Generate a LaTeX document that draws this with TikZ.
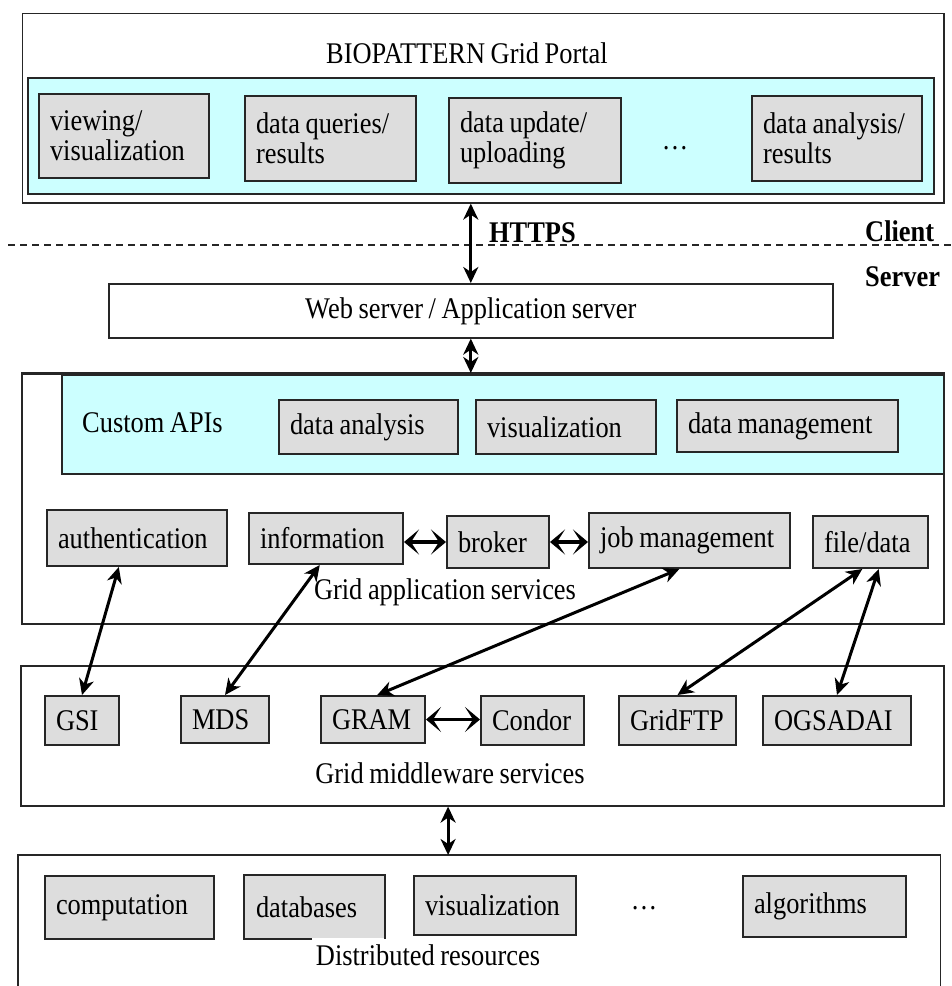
\documentclass[tikz,border=0pt]{standalone}
\usepackage{fontspec}
\setmainfont{Liberation Serif}[FakeStretch=0.88,WordSpace=0.85]
\usetikzlibrary{arrows.meta,calc}

\definecolor{apicyan}{HTML}{CCFFFF}
\definecolor{boxgrey}{HTML}{DDDDDD}
\definecolor{edge}{HTML}{262626}

% grey service box: [extra options], name, left, top, right, bottom, text
\newcommand\GreyBox[7][]{%
  \pgfmathsetmacro\gbW{#5-#3-22}%
  \pgfmathsetmacro\gbH{#6-#4}%
  \node[gbox, #1, text width=\gbW pt, minimum height=\gbH pt] (#2) at (#3,#4) {#7};}

\begin{document}
\begin{tikzpicture}[x=1pt,y=-1pt,
  every node/.style={font=\fontsize{30}{30}\selectfont},
  layer/.style={draw=edge, line width=1.6pt, anchor=north west, inner sep=0pt},
  gbox/.style={draw=edge, fill=boxgrey, line width=2pt, anchor=north west,
               align=flush left, inner xsep=11pt, inner ysep=0pt},
  link/.style={line width=3pt,
               {Stealth[length=16pt,width=15pt,inset=5pt]}-{Stealth[length=16pt,width=15pt,inset=5pt]}},
  hlink/.style={line width=3.2pt,
               {Stealth[length=15pt,width=25pt,inset=8pt]}-{Stealth[length=15pt,width=25pt,inset=8pt]}},
  caption/.style={inner sep=0pt},
  side/.style={font=\fontsize{30}{30}\selectfont\bfseries, anchor=west, inner sep=0pt}
]
\useasboundingbox (0,0) rectangle (952,986);

% ---------- client side: portal ----------
\node[layer, minimum width=921.5pt, minimum height=189.3pt] (portal) at (21.5,12.7) {};
\node[caption] (title) at (467,53) {BIOPATTERN Grid Portal};
\node[layer, fill=apicyan, minimum width=906pt, minimum height=116pt] (ui) at (27,77) {};
\GreyBox{view}{38}{93}{208}{177}{viewing/\\visualization}
\GreyBox{query}{244}{95}{415}{180}{data queries/\\results}
\GreyBox{upload}{448}{97}{620}{182}{data update/\\uploading}
\node[caption] (uidots) at (675,148) {\dots};
\GreyBox{result}{751}{95}{921}{180}{data analysis/\\results}

% ---------- client / server split ----------
\coordinate (splitL) at (8,245);
\coordinate (splitR) at (952,245);
\draw[edge, line width=1.5pt, dash pattern=on 7pt off 5pt] (splitL) -- (splitR);
\node[side] (https) at (489,233) {HTTPS};
\node[side] (client) at (865,231) {Client};
\node[side] (server) at (865,277) {Server};

% ---------- web server ----------
\node[layer, minimum width=724pt, minimum height=54pt] (web) at (108,283) {};
\node[caption] at (web.center) {Web server / Application server};

% ---------- grid application services ----------
\node[layer, minimum width=922pt, minimum height=250pt] (app) at (21,373) {};
\node[layer, fill=apicyan, minimum width=882pt, minimum height=99pt] (apis) at (61,374) {};
\draw[edge, line width=3pt] (app.north west) -- (app.north east);
\node[caption, anchor=west] (apititle) at (82,423) {Custom APIs};
\GreyBox{apiana}{278}{399}{457}{453}{data analysis}
\GreyBox{apivis}{475}{399}{655}{453}{visualization}
\GreyBox{apiman}{676}{399}{897}{451}{data management}

\GreyBox{auth}{46}{509}{226}{565}{authentication}
\GreyBox{info}{248}{512}{402}{563}{information}
\GreyBox{broker}{446}{515}{548}{567}{broker}
\GreyBox{job}{588}{512}{789}{567}{job management}
\GreyBox{file}{812}{515}{927}{567}{file/data}
\node[caption] (appcap) at (445,592) {Grid application services};

% ---------- grid middleware services ----------
\node[layer, minimum width=923pt, minimum height=140pt] (mw) at (20,665) {};
\GreyBox{gsi}{44}{695}{118}{744}{GSI}
\GreyBox{mds}{180}{695}{268}{742}{MDS}
\GreyBox{gram}{320}{695}{424}{742}{GRAM}
\GreyBox{condor}{480}{695}{583}{744}{Condor}
\GreyBox{gridftp}{618}{695}{735}{744}{GridFTP}
\GreyBox{ogsa}{762}{695}{910}{744}{OGSADAI}
\node[caption] (mwcap) at (450,773) {Grid middleware services};

% ---------- distributed resources (open at the bottom) ----------
\node[inner sep=0pt, anchor=north west, minimum width=922pt, minimum height=131pt] (res) at (18,855) {};
\draw[edge, line width=1.6pt] (res.south west) -- (res.north west) -- (res.north east) -- (res.south east);
\GreyBox{comp}{44}{875}{213}{938}{computation}
\GreyBox[draw=none]{db}{244}{875}{383}{937}{databases}
\draw[edge, line width=2pt] ($(db.south west)+(68,0)$) -- (db.south west) -- (db.north west)
  -- (db.north east) -- (db.south east);
\GreyBox{resvis}{413}{875}{575}{934}{visualization}
\node[caption] (resdots) at (644,908) {\dots};
\GreyBox{algo}{742}{875}{905}{936}{algorithms}
\node[caption] (rescap) at (428,955) {Distributed resources};

% ---------- connectors ----------
\draw[link] (web.north |- portal.south) -- (web.north);
\draw[link] (web.south) -- (web.south |- app.north);

\draw[hlink] (info.east |- broker.west) -- (broker.west);
\draw[hlink] (broker.east) -- (job.west |- broker.east);
\draw[hlink] (gram.east) -- (condor.west |- gram.east);

\draw[link] ($(auth.south west)!0.4!(auth.south east)$) -- (gsi.north);
\draw[link] ($(info.south west)!0.46!(info.south east)$) -- (mds.north);
\draw[link] ($(job.south west)!0.45!(job.south east)$) -- ($(gram.north west)!0.54!(gram.north east)$);
\draw[link] ($(file.south west)!0.43!(file.south east)$) -- (gridftp.north);
\draw[link] ($(file.south west)!0.57!(file.south east)$) -- (ogsa.north);

\coordinate (mwout) at ($(mw.south west)!0.463!(mw.south east)$);
\draw[link] (mwout) -- (mwout |- res.north);
\end{tikzpicture}
\end{document}
